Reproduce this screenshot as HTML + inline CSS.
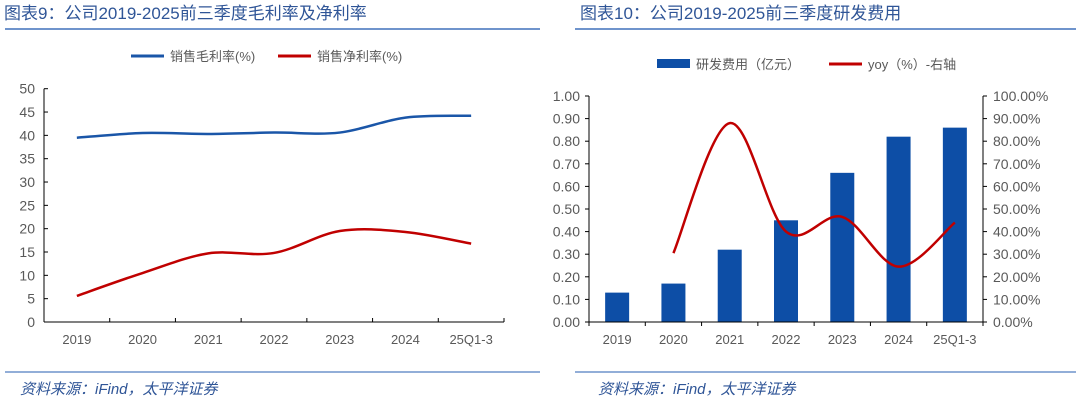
<!DOCTYPE html>
<html><head><meta charset="utf-8"><style>
body{margin:0;background:#fff;width:1080px;height:404px;overflow:hidden;font-family:"Liberation Sans","Noto Sans CJK SC",sans-serif}
svg text{font-family:"Liberation Sans","Noto Sans CJK SC",sans-serif}
</style></head><body>
<svg id="s" width="1080" height="404">
<text x="4" y="19" font-size="17" fill="#2f5597">图表9：公司2019-2025前三季度毛利率及净利率</text>
<text x="580" y="19" font-size="17" fill="#2f5597">图表10：公司2019-2025前三季度研发费用</text>
<line x1="5" y1="29" x2="540" y2="29" stroke="#6f94cc" stroke-width="2"/>
<line x1="575" y1="29" x2="1076" y2="29" stroke="#6f94cc" stroke-width="2"/>
<line x1="5" y1="372" x2="540" y2="372" stroke="#6f94cc" stroke-width="1.5"/>
<line x1="575" y1="372" x2="1076" y2="372" stroke="#6f94cc" stroke-width="1.5"/>
<text x="20" y="394" font-size="15" font-style="italic" fill="#2f5597">资料来源：iFind，太平洋证券</text>
<text x="598" y="394" font-size="15" font-style="italic" fill="#2f5597">资料来源：iFind，太平洋证券</text>
<!-- left legend -->
<line x1="131" y1="56" x2="164" y2="56" stroke="#1a56a8" stroke-width="3"/>
<text x="170" y="61" font-size="13" fill="#595959">销售毛利率(%)</text>
<line x1="278" y1="56" x2="311" y2="56" stroke="#c00000" stroke-width="3"/>
<text x="317" y="61" font-size="13" fill="#595959">销售净利率(%)</text>
<!-- right legend -->
<rect x="657" y="59" width="33" height="9" fill="#0d4ea6"/>
<text x="696" y="69" font-size="13" fill="#595959">研发费用（亿元）</text>
<line x1="829" y1="64" x2="862" y2="64" stroke="#c00000" stroke-width="3"/>
<text x="868" y="69" font-size="13" fill="#595959">yoy（%）-右轴</text>
<g id="L"></g><g id="R"></g>
</svg>
<script>
const cats=["2019","2020","2021","2022","2023","2024","25Q1-3"];
const grossMargin=[39.5,40.5,40.3,40.6,40.6,43.8,44.2];
const netMargin=[5.6,10.5,14.7,14.8,19.5,19.3,16.8];
const leftTicks=[0,5,10,15,20,25,30,35,40,45,50];
const rdExpense=[0.13,0.17,0.32,0.45,0.66,0.82,0.86];
const yoy=[null,30.5,88,40,46.5,24.5,44];
const rdTicks=[0,0.1,0.2,0.3,0.4,0.5,0.6,0.7,0.8,0.9,1.0];
const yoyTicks=[0,10,20,30,40,50,60,70,80,90,100];
const NS="http://www.w3.org/2000/svg";
function mk(p,t,a){const e=document.createElementNS(NS,t);for(const k in a)e.setAttribute(k,a[k]);p.appendChild(e);return e;}
function smooth(pts){let d="M"+pts[0][0]+","+pts[0][1];for(let i=0;i<pts.length-1;i++){const p0=pts[i-1]||pts[i],p1=pts[i],p2=pts[i+1],p3=pts[i+2]||p2;const c1=[p1[0]+(p2[0]-p0[0])/6,p1[1]+(p2[1]-p0[1])/6],c2=[p2[0]-(p3[0]-p1[0])/6,p2[1]-(p3[1]-p1[1])/6];d+=" C"+c1+" "+c2+" "+p2;}return d;}
// left chart
const L=document.getElementById('L');
const lx0=44,lx1=504,ly0=322,ly1=88.7,lcw=(lx1-lx0)/cats.length;
const lX=i=>lx0+lcw*(i+0.5),lY=v=>ly0-(v/50)*(ly0-ly1);
let e=mk(L,'line',{x1:lx0,y1:ly1,x2:lx0,y2:ly0,stroke:'#000','stroke-width':1});


e=mk(L,'line',{x1:lx0,y1:ly0,x2:lx1,y2:ly0,stroke:'#000','stroke-width':1});


leftTicks.forEach(v=>{mk(L,'line',{x1:lx0,y1:lY(v),x2:lx0+4,y2:lY(v),stroke:'#000'});
const t=mk(L,'text',{x:lx0-9,y:lY(v)+5,'font-size':14,fill:'#595959','text-anchor':'end'});t.textContent=v;

});
for(let i=0;i<=cats.length;i++)mk(L,'line',{x1:lx0+lcw*i,y1:ly0,x2:lx0+lcw*i,y2:ly0-4,stroke:'#000'});
cats.forEach((c,i)=>{const t=mk(L,'text',{x:lX(i),y:344,'font-size':13,fill:'#595959','text-anchor':'middle'});t.textContent=c;

});
e=mk(L,'path',{d:smooth(grossMargin.map((v,i)=>[lX(i),lY(v)])),fill:'none',stroke:'#1a56a8','stroke-width':2.5});


e=mk(L,'path',{d:smooth(netMargin.map((v,i)=>[lX(i),lY(v)])),fill:'none',stroke:'#c00000','stroke-width':2.5});


// right chart
const R=document.getElementById('R');
const rx0=589,rx1=983,ry0=322,ry1=96,rcw=(rx1-rx0)/cats.length;
const rX=i=>rx0+rcw*(i+0.5),rY=v=>ry0-(v/1)*(ry0-ry1),rY2=v=>ry0-(v/100)*(ry0-ry1);
rdExpense.forEach((v,i)=>{const b=mk(R,'rect',{x:rX(i)-12,y:rY(v),width:24,height:ry0-rY(v),fill:'#0d4ea6'});

});
e=mk(R,'line',{x1:rx0,y1:ry1,x2:rx0,y2:ry0,stroke:'#000'});


e=mk(R,'line',{x1:rx1,y1:ry1,x2:rx1,y2:ry0,stroke:'#000'});


e=mk(R,'line',{x1:rx0,y1:ry0,x2:rx1,y2:ry0,stroke:'#000'});


rdTicks.forEach(v=>{mk(R,'line',{x1:rx0-4,y1:rY(v),x2:rx0,y2:rY(v),stroke:'#000'});
const t=mk(R,'text',{x:rx0-9,y:rY(v)+5,'font-size':14,fill:'#595959','text-anchor':'end'});t.textContent=v.toFixed(2);

});
yoyTicks.forEach(v=>{mk(R,'line',{x1:rx1,y1:rY2(v),x2:rx1+4,y2:rY2(v),stroke:'#000'});
const t=mk(R,'text',{x:rx1+10,y:rY2(v)+5,'font-size':14,fill:'#595959'});t.textContent=v.toFixed(2)+'%';

});
for(let i=0;i<=cats.length;i++)mk(R,'line',{x1:rx0+rcw*i,y1:ry0,x2:rx0+rcw*i,y2:ry0+4,stroke:'#000'});
cats.forEach((c,i)=>{const t=mk(R,'text',{x:rX(i),y:344,'font-size':13,fill:'#595959','text-anchor':'middle'});t.textContent=c;

});
const yp=[];yoy.forEach((v,i)=>{if(v!==null)yp.push([rX(i),rY2(v)]);});
e=mk(R,'path',{d:smooth(yp),fill:'none',stroke:'#c00000','stroke-width':2.5});


</script>
</body></html>
